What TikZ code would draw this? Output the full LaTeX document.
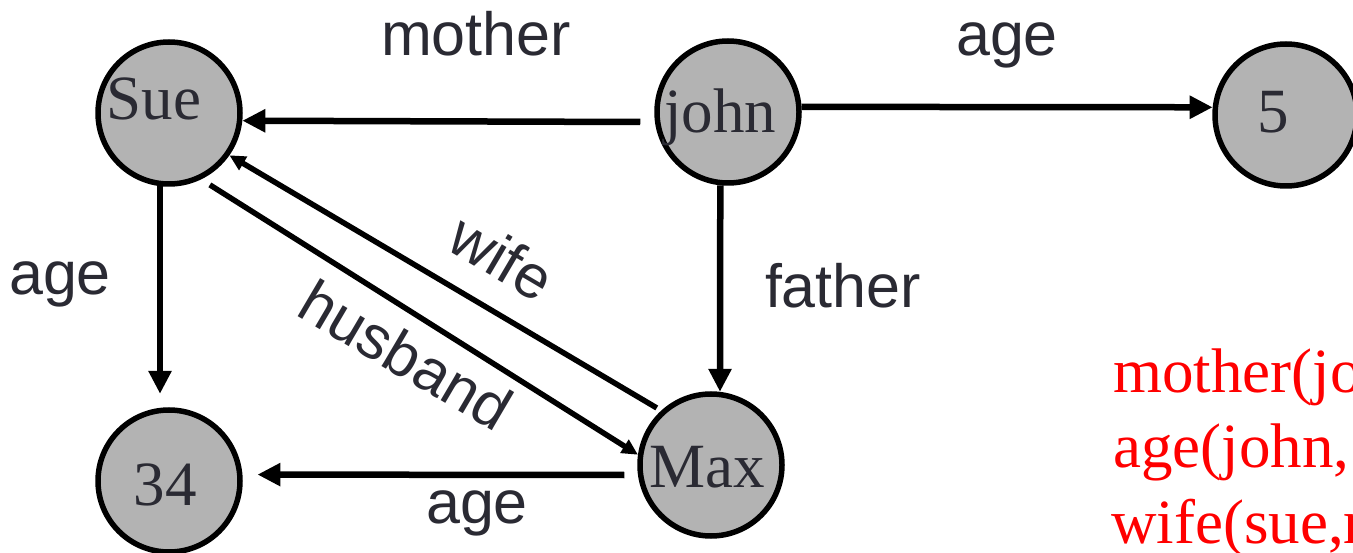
\documentclass[tikz,border=0pt]{standalone}
\usepackage{fontspec}
\setmainfont{Liberation Serif}
\newfontfamily\labelfont{Liberation Sans}
\usetikzlibrary{arrows.meta}
\definecolor{inkdark}{HTML}{2A2A33}
\definecolor{nodegray}{HTML}{B3B3B3}
\begin{document}
\begin{tikzpicture}[x=1pt,y=-1pt,
  entity/.style={circle, draw=black, fill=nodegray, line width=5.5pt,
    minimum size=142pt, inner sep=0pt},
  entitytext/.style={anchor=base, text=inkdark, inner sep=0pt,
    font=\fontsize{63}{63}\selectfont},
  rel/.style={line width=6.5pt, -{Triangle[length=23pt,width=22pt]}},
  relthin/.style={line width=5.5pt, -{Triangle[length=16pt,width=15pt]}},
  rellabel/.style={text=inkdark, inner sep=0pt, anchor=base,
    font=\labelfont\fontsize{61}{61}\selectfont},
  fact/.style={text=red, inner sep=0pt, anchor=base west,
    font=\fontsize{63}{63}\selectfont}]

\useasboundingbox (0,0) rectangle (1353,553);
\clip (0,0) rectangle (1353,553);

% entities
\node[entity] (Sue)  at (169,113) {};
\node[entity] (john) at (728,112) {};
\node[entity] (five) at (1286,115) {};
\node[entity] (n34)  at (169,481) {};
\node[entity] (Max)  at (711,465) {};

\node[entitytext] (tSue)  at (154,120) {Sue};
\node[entitytext] (tjohn) at (720,133) {john};
\node[entitytext] (tfive) at (1273,133) {5};
\node[entitytext] (t34)   at (165,505) {34};
\node[entitytext] (tMax)  at (707,487) {Max};

% relations
\draw[rel] ([shift={(-14,10)}]john.west) -- (Sue.-6);
\draw[rel] (john.4) -- (five.174);
\draw[rel] (john.-96) -- (Max.83);
\draw[rel] (Sue.-97) -- ([shift={(0,-14)}]n34.97);
\draw[rel] ([shift={(-13,10)}]Max.west) -- ([shift={(15,0)}]n34.5);
\draw[relthin] ([shift={(-3,-4)}]Max.134) -- (Sue.-35);
\draw[relthin] ([shift={(4,8)}]Sue.-60) -- (Max.172);

% relation labels
\node[rellabel] (lmother) at (476,56) {mother};
\node[rellabel] (lage1)   at (1007,56) {age};
\node[rellabel] (lfather) at (843,308) {father};
\node[rellabel] (lage2)   at (60,295) {age};
\node[rellabel] (lage3)   at (477,523) {age};
\node[rellabel, anchor=center, rotate=-30.5] (lwife)    at (502,257) {wife};
\node[rellabel, anchor=center, rotate=-30.5] (lhusband) at (406,355) {husband};

% facts
\node[fact] (f1) at (1113,392) {mother(john,sue)};
\node[fact] (f2) at (1113,467) {age(john, 5)};
\node[fact] (f3) at (1111,543) {wife(sue,max)};
\end{tikzpicture}
\end{document}
